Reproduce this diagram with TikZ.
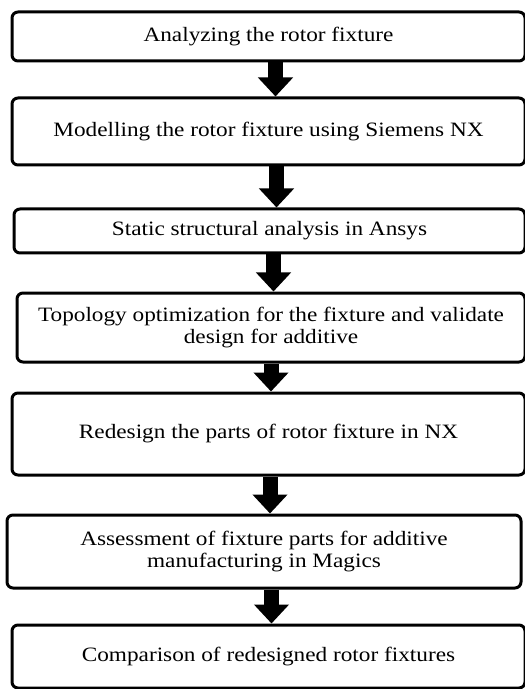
\documentclass[tikz,border=0pt]{standalone}
\usepackage{fontspec}
\setmainfont{Liberation Serif}[FakeStretch=1.14]
\usetikzlibrary{arrows.meta, positioning}

\tikzset{
  stagebox/.style={draw, line width=1.5pt, rounded corners=3pt, align=center,
    inner sep=0pt, font=\fontsize{10.2}{11.3}\selectfont},
  flowarrow/.style={line width=7.5pt, -{Triangle[width=17pt,length=9.5pt]}}
}

\begin{document}
\begin{tikzpicture}[x=0.5pt, y=-0.5pt]
  \useasboundingbox (0,0) rectangle (524,689);

  \node[stagebox, minimum width=256.5pt, minimum height=24.5pt] (analyse) at (268.5,36.5) {Analyzing the rotor fixture};
  \node[stagebox, minimum width=256.5pt, minimum height=33.5pt] (model) at (268.5,131.5) {Modelling the rotor fixture using Siemens NX};
  \node[stagebox, minimum width=255.5pt, minimum height=22pt] (static) at (269.5,231) {Static structural analysis in Ansys};
  \node[stagebox, minimum width=254pt, minimum height=34.5pt] (topo) at (271,327.5) {Topology optimization for the fixture and validate\\design for additive};
  \node[stagebox, minimum width=256.5pt, minimum height=41pt] (redesign) at (268.5,434) {Redesign the parts of rotor fixture in NX};
  \node[stagebox, minimum width=257pt, minimum height=36.5pt] (assess) at (264,551.5) {Assessment of fixture parts for additive\\manufacturing in Magics};
  \node[stagebox, minimum width=256.5pt, minimum height=31.5pt] (compare) at (268.5,656.5) {Comparison of redesigned rotor fixtures};

  % arrows between the stages
  \foreach \a/\b/\x in {analyse/model/275.5, model/static/276.5, static/topo/273.5,
                        topo/redesign/271, redesign/assess/270, assess/compare/271.5} {
    \coordinate (ax) at (\x,0);
    \draw[flowarrow] (\a.south -| ax) -- (\b.north -| ax);
  }
\end{tikzpicture}
\end{document}
